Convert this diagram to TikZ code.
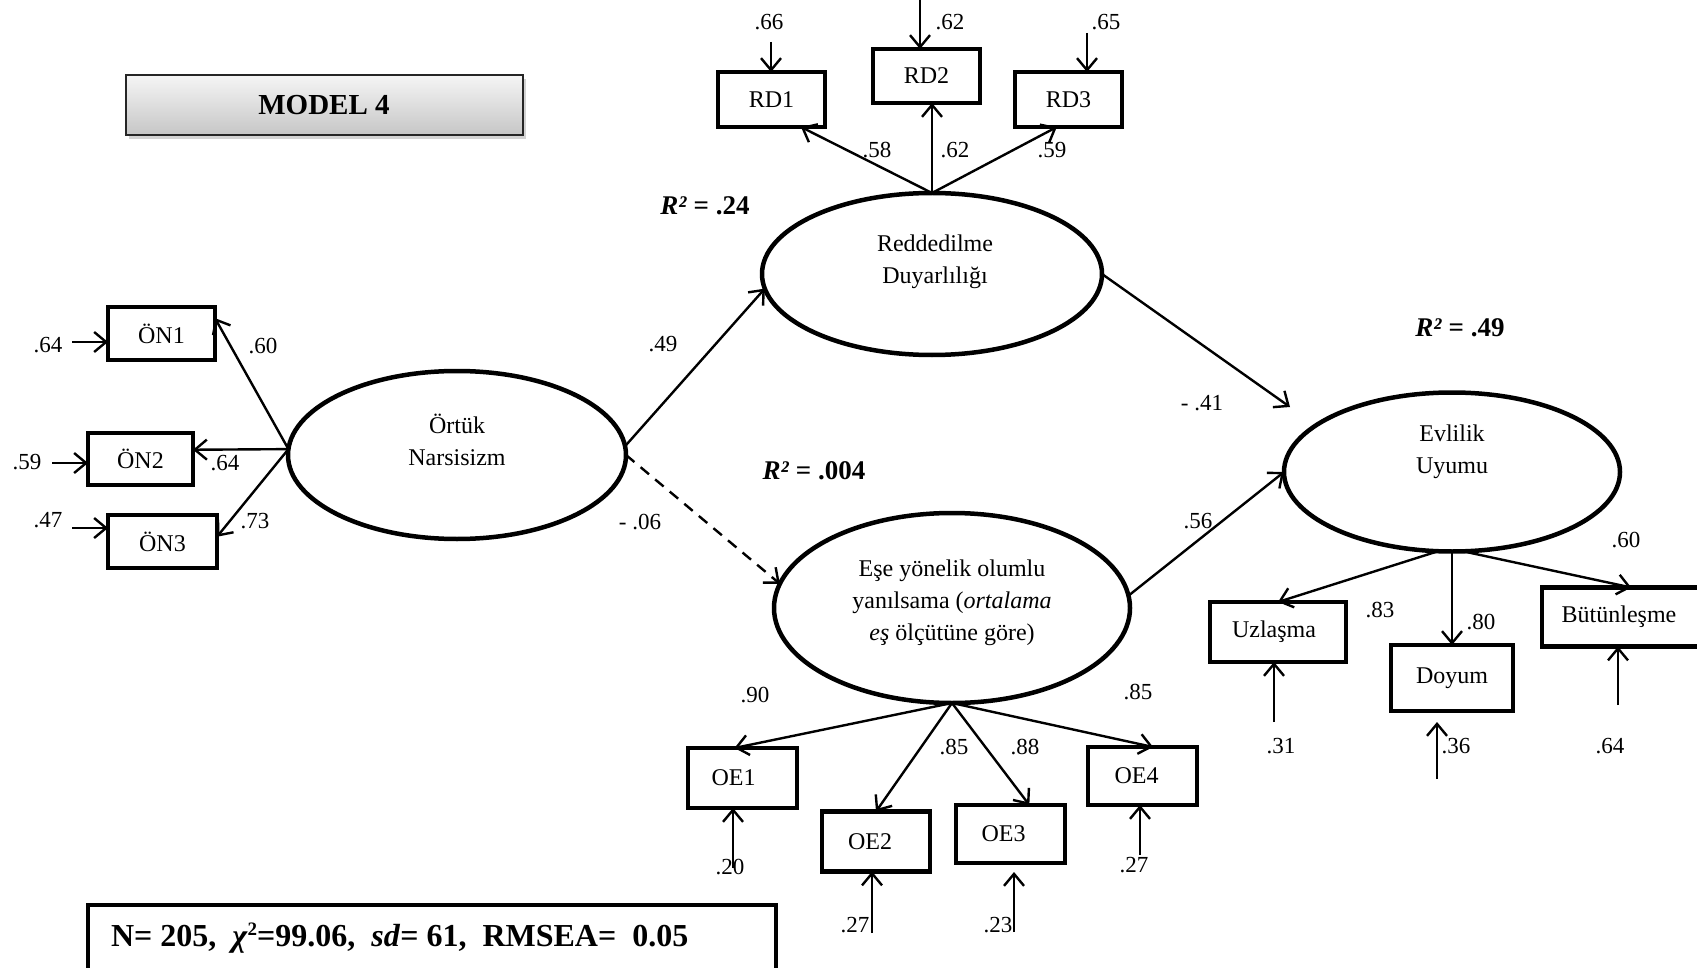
\documentclass[tikz,border=0pt]{standalone}
\usepackage{fontspec}
\setmainfont{Liberation Serif}
\usetikzlibrary{arrows.meta,shapes.geometric,shadows,calc}
\begin{document}
\begin{tikzpicture}[x=1pt,y=-1pt,
  every node/.style={inner sep=0pt, outer sep=0pt},
  txt/.style={font=\fontsize{24}{32}\selectfont, align=center},
  lab/.style={font=\fontsize{23}{27}\selectfont},
  rsq/.style={font=\fontsize{27}{30}\selectfont\bfseries},
  obs/.style={draw, line width=4.5pt, rectangle, font=\fontsize{24}{28}\selectfont},
  lat/.style={draw, line width=4.5pt, ellipse},
  arr/.style={line width=2.4pt, -{Straight Barb[length=12pt,width=20pt,line width=2.4pt]}},
]
\useasboundingbox (0,0) rectangle (1697,968);

% title box
\node[draw=black!85, line width=2pt, top color=gray!8, bottom color=gray!45,
      drop shadow={shadow xshift=3pt,shadow yshift=-4pt,opacity=0.35},
      minimum width=397pt, minimum height=60pt,
      font=\fontsize{29}{32}\selectfont\bfseries] (model) at (324,105.5) {MODEL 4};

% latent variables
\node[lat, minimum width=340pt, minimum height=162pt] (RD) at (932,274) {};
\node[txt] (RDt) at (935,262) {Reddedilme\\Duyarlılığı};
\node[lat, minimum width=338pt, minimum height=168pt] (ORT) at (457,455) {};
\node[txt] (ORTt) at (457,440) {Örtük\\Narsisizm};
\node[lat, minimum width=356pt, minimum height=190pt] (EY) at (952,608) {};
\node[txt] (EYt) at (952,603) {Eşe yönelik olumlu\\yanılsama (\textit{ortalama}\\\textit{eş} ölçütüne göre)};
\node[lat, minimum width=336pt, minimum height=159pt] (EV) at (1452,472) {};
\node[txt] (EVt) at (1452,452) {Evlilik\\Uyumu};

% observed variables
\node[obs, minimum width=107pt, minimum height=55pt] (RD1) at (771.5,99.5) {RD1};
\node[obs, minimum width=107pt, minimum height=54pt] (RD2) at (926.5,76) {RD2};
\node[obs, minimum width=107pt, minimum height=55pt] (RD3) at (1068.5,99.5) {RD3};
\node[obs, minimum width=107pt, minimum height=53pt] (ON1) at (161.5,333.5) {ÖN1};
\node[obs, minimum width=105pt, minimum height=52pt] (ON2) at (140.5,459) {ÖN2};
\node[obs, minimum width=109pt, minimum height=53pt] (ON3) at (162.5,541.5) {ÖN3};
\node[obs, minimum width=109pt, minimum height=60pt] (OE1) at (742.5,778) {OE1\kern18pt};
\node[obs, minimum width=108pt, minimum height=60pt] (OE2) at (876,841.5) {OE2\kern12pt};
\node[obs, minimum width=109pt, minimum height=58pt] (OE3) at (1010.5,834) {OE3\kern14pt};
\node[obs, minimum width=109pt, minimum height=58pt] (OE4) at (1142.5,776) {OE4\kern12pt};
\node[obs, minimum width=136pt, minimum height=60pt] (UZ) at (1278,632) {Uzlaşma\kern8pt};
\node[obs, minimum width=122pt, minimum height=66pt] (DO) at (1452,678) {Doyum};
\node[obs, minimum width=168pt, minimum height=59pt] (BU) at (1626,617) {Bütünleşme\kern14pt};

% structural paths
\coordinate (evin) at (1290,407);
\draw[arr] (ORT.3) -- (RD.185);
\draw[arr, dash pattern=on 11pt off 8pt] (ORT.east) -- (EY.172);
\draw[arr] (RD.east) -- (evin);
\draw[arr] (EY.4) -- (EV.west);

% loadings
\draw[arr] (ORT.178) -- (ON1.16);
\draw[arr] (ORT.178) -- (ON2.10);
\draw[arr] (ORT.178) -- (ON3.5);
\draw[arr] (RD.north) -- (RD1.-43);
\draw[arr] (RD.north) -- (RD.north |- RD2.south);
\draw[arr] (RD.north) -- (RD3.-113);
\draw[arr] (EY.south) -- (OE1.105);
\draw[arr] (EY.south) -- (OE2.north);
\draw[arr] (EY.south) -- (OE3.57);
\draw[arr] (EY.south) -- (OE4.70);
\draw[arr] (EV.260) -- (UZ.north);
\draw[arr] (EV.south) -- (DO.north);
\draw[arr] (EV.278) -- (BU.80);

% error terms
\coordinate (eR1) at (771,42);
\coordinate (eR2) at (920,-5);
\coordinate (eR3) at (1087,33);
\coordinate (eO1) at (72,342);
\coordinate (eO2) at (52,463);
\coordinate (eO3) at (72,528);
\coordinate (eE1) at (733,868);
\coordinate (eE2) at (872,933);
\coordinate (eE3) at (1014,932);
\coordinate (eE4) at (1140,855);
\coordinate (eU) at (1274,722);
\coordinate (eD) at (1437,779);
\coordinate (eB) at (1618,705);
\draw[arr] (eR1) -- (eR1 |- RD1.north);
\draw[arr] (eR2) -- (eR2 |- RD2.north);
\draw[arr] (eR3) -- (eR3 |- RD3.north);
\draw[arr] (eO1) -- (eO1 -| ON1.west);
\draw[arr] (eO2) -- (eO2 -| ON2.west);
\draw[arr] (eO3) -- (eO3 -| ON3.west);
\draw[arr] (eE1) -- (eE1 |- OE1.south);
\draw[arr] (eE2) -- (eE2 |- OE2.south);
\draw[arr] (eE3) -- ($(eE3 |- OE3.south)+(0,9)$);
\draw[arr] (eE4) -- (eE4 |- OE4.south);
\draw[arr] (eU) -- (eU |- UZ.south);
\draw[arr] (eD) -- ($(eD |- DO.south)+(0,11)$);
\draw[arr] (eB) -- (eB |- BU.south);

% labels
\node[lab] (l1) at (769,22) {.66};
\node[lab] (l2) at (950,22) {.62};
\node[lab] (l3) at (1106,22) {.65};
\node[lab] (l4) at (877,150) {.58};
\node[lab] (l5) at (955,150) {.62};
\node[lab] (l6) at (1052,150) {.59};
\node[lab] (l7) at (48,345) {.64};
\node[lab] (l8) at (27,462) {.59};
\node[lab] (l9) at (48,520) {.47};
\node[lab] (l10) at (263,346) {.60};
\node[lab] (l11) at (225,463) {.64};
\node[lab] (l12) at (255,521) {.73};
\node[lab] (l13) at (663,344) {.49};
\node[lab] (l14) at (640,522) {- .06};
\node[lab] (l15) at (1202,403) {- .41};
\node[lab] (l16) at (1198,521) {.56};
\node[lab] (l17) at (755,695) {.90};
\node[lab] (l18) at (954,747) {.85};
\node[lab] (l19) at (1025,747) {.88};
\node[lab] (l20) at (1138,692) {.85};
\node[lab] (l21) at (730,867) {.20};
\node[lab] (l22) at (855,925) {.27};
\node[lab] (l23) at (998,925) {.23};
\node[lab] (l24) at (1134,865) {.27};
\node[lab] (l25) at (1380,610) {.83};
\node[lab] (l26) at (1481,622) {.80};
\node[lab] (l27) at (1626,540) {.60};
\node[lab] (l28) at (1281,746) {.31};
\node[lab] (l29) at (1456,746) {.36};
\node[lab] (l30) at (1610,746) {.64};

\node[rsq] (r1) at (705,206) {\textit{R²} = .24};
\node[rsq] (r2) at (814,471) {\textit{R²} = .004};
\node[rsq] (r3) at (1460,328) {\textit{R²} = .49};

% fit box
\node[draw, line width=3.5pt, minimum width=688pt, minimum height=76pt, anchor=north west] (fit) at (88,905) {};
\node[font=\fontsize{32}{34}\selectfont\bfseries, anchor=west] (fitt) at (111,938)
  {N= 205,\ \ \textit{χ}\raisebox{0.35em}{\fontsize{19}{20}\selectfont 2}=99.06,\ \ \textit{sd}= 61,\ \ RMSEA=\ \ 0.05};
\end{tikzpicture}
\end{document}
